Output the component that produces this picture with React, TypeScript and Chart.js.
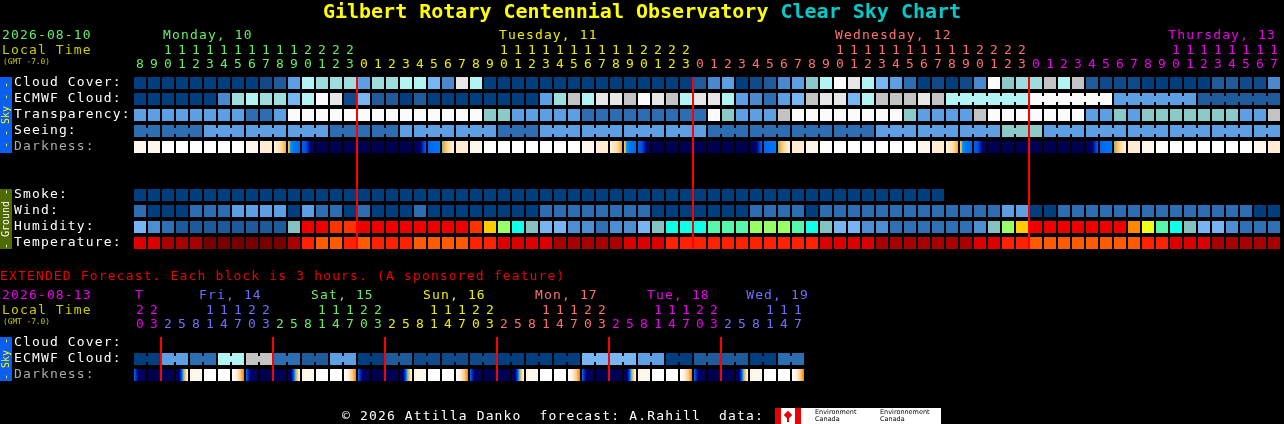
import React, { useEffect, useRef } from 'react';
import { Chart, registerables } from 'chart.js';

Chart.register(...registerables);

const FONT = "'DejaVu Sans Mono', monospace";

// ---------------- tick labels ----------------
const topHours = [
  8, 9, 10, 11, 12, 13, 14, 15, 16, 17, 18, 19, 20, 21, 22, 23,
  0, 1, 2, 3, 4, 5, 6, 7, 8, 9, 10, 11, 12, 13, 14, 15, 16, 17, 18, 19, 20, 21, 22, 23,
  0, 1, 2, 3, 4, 5, 6, 7, 8, 9, 10, 11, 12, 13, 14, 15, 16, 17, 18, 19, 20, 21, 22, 23,
  0, 1, 2, 3, 4, 5, 6, 7, 8, 9, 10, 11, 12, 13, 14, 15, 16, 17,
];
const topDayNames = ['Monday, 10', 'Tuesday, 11', 'Wednesday, 12', 'Thursday, 13'];
const topDayColors = ['#66ee66', '#eeee00', '#ff7070', '#ee00ee'];

const extHours = [
  20, 23,
  2, 5, 8, 11, 14, 17, 20, 23,
  2, 5, 8, 11, 14, 17, 20, 23,
  2, 5, 8, 11, 14, 17, 20, 23,
  2, 5, 8, 11, 14, 17, 20, 23,
  2, 5, 8, 11, 14, 17, 20, 23,
  2, 5, 8, 11, 14, 17,
];
const extDayNames = ['T', 'Fri, 14', 'Sat, 15', 'Sun, 16', 'Mon, 17', 'Tue, 18', 'Wed, 19'];
const extDayColors = ['#ee00ee', '#7070ff', '#66ee66', '#eeee00', '#ff7070', '#ee00ee', '#7070ff'];

// ---------------- series (level indices / codes) ----------------
const cloudCover = [
  0, 0, 0, 0, 0, 0, 0, 0, 0, 1, 2, 5, 9, 8, 8, 8,
  5, 8, 8, 9, 9, 6, 4, 11, 9, 0, 0, 0, 0, 0, 0, 0, 0, 0, 0, 0, 0, 0, 0, 0,
  2, 4, 5, 0, 1, 2, 4, 5, 7, 9, 12, 11, 9, 6, 5, 3, 0, 1, 0, 1, 4, 12, 7, 8,
  8, 10, 9, 10, 2, 1, 1, 1, 0, 0, 0, 0, 0, 2, 2, 1, 1, 4,
];
const ecmwfCloud = [
  0, 0, 0, 0, 0, 0, 4, 8, 9, 8, 8, 6, 9, 12, 11, 1,
  6, 2, 2, 0, 2, 0, 0, 0, 0, 0, 0, 0, 0, 5, 8, 10, 9, 11, 11, 10, 12, 11, 10, 9,
  11, 11, 9, 5, 4, 3, 5, 6, 10, 11, 11, 6, 9, 10, 10, 10, 11, 10, 9, 9, 9, 9, 9, 9,
  12, 12, 12, 12, 12, 12, 5, 5, 5, 5, 5, 5, 2, 2, 2, 2, 2, 2,
];
const ecmwfGroupSizes = [
  1, 1, 1, 1, 1, 1, 1, 1, 1, 1, 1, 1, 1, 1, 1, 1, 1, 1, 1, 1, 1, 1, 1, 1, 1, 1, 1, 1, 1,
  1, 1, 1, 1, 1, 1, 1, 1, 1, 1, 1, 1, 1, 1, 1, 1, 1, 1, 1, 1, 1, 1, 1, 1, 1, 1, 1, 1, 1,
  6, 6, 6, 6,
];
const transparency = [
  5, 5, 5, 5, 5, 5, 5, 5, 3, 3, 5, 12, 12, 12, 12, 12,
  12, 12, 12, 12, 12, 12, 12, 12, 12, 7, 7, 5, 5, 5, 5, 5, 3, 3, 3, 3, 3, 3, 3, 3,
  3, 12, 7, 5, 5, 5, 10, 12, 12, 12, 12, 12, 12, 12, 12, 7, 5, 5, 5, 5, 10, 12, 12, 12,
  12, 12, 12, 12, 5, 5, 7, 5, 7, 7, 7, 7, 7, 7, 7, 5, 5, 10,
];
const seeing = [
  3, 3, 3, 3, 3, 5, 5, 5, 5, 5, 5, 5, 5, 5, 3, 3,
  3, 3, 3, 5, 5, 5, 5, 5, 5, 5, 3, 3, 3, 5, 5, 5, 5, 5, 5, 5, 5, 5, 5, 5,
  5, 3, 3, 3, 3, 3, 3, 3, 3, 3, 3, 3, 3, 5, 5, 5, 5, 5, 5, 5, 5, 5, 7, 7,
  7, 5, 5, 5, 5, 5, 5, 5, 5, 5, 5, 5, 5, 5, 5, 5, 5, 5,
];
const seeingGroupSizes = [2, 3, 3, 3, 3, 3, 3, 3, 3, 3, 3, 3, 3, 3, 3, 3, 3, 3, 3, 3, 3, 3, 3, 3, 3, 3, 3, 2];
const darkness = [
  'c', 'c', 'W', 'W', 'W', 'W', 'W', 'W', 'c', 'C', 'S', 'T', 'D', 'N', 'N', 'N',
  'N', 'N', 'N', 'N', 'b', 'R', 'r', 'C', 'c', 'W', 'W', 'W', 'W', 'W', 'W', 'W', 'c', 'C', 'S', 'T', 'D', 'N', 'N', 'N',
  'N', 'N', 'N', 'N', 'b', 'R', 'r', 'C', 'c', 'W', 'W', 'W', 'W', 'W', 'W', 'W', 'c', 'C', 'S', 'T', 'D', 'N', 'N', 'N',
  'N', 'N', 'N', 'N', 'b', 'R', 'r', 'C', 'c', 'W', 'W', 'W', 'W', 'W', 'W', 'W', 'c', 'C',
];
const smoke = [
  0, 0, 0, 0, 0, 0, 0, 0, 0, 0, 0, 0, 0, 0, 0, 0,
  0, 0, 0, 0, 0, 0, 0, 0, 0, 0, 0, 0, 0, 0, 0, 0, 0, 0, 0, 0, 0, 0, 0, 0,
  0, 0, 0, 0, 0, 0, 0, 0, 0, 0, 0, 0, 0, 0, 0, 0, 0, 0,
];
const wind = [
  3, 0, 0, 0, 3, 3, 3, 5, 5, 5, 5, 0, 5, 3, 3, 0,
  3, 0, 0, 0, 3, 0, 0, 0, 0, 0, 0, 0, 0, 3, 3, 3, 3, 3, 3, 3, 3, 0, 0, 0,
  0, 0, 0, 0, 3, 3, 3, 3, 0, 3, 3, 3, 3, 3, 3, 3, 3, 3, 3, 3, 3, 3, 5, 5,
  0, 0, 3, 3, 3, 3, 3, 3, 3, 3, 3, 3, 3, 3, 3, 3, 0, 0,
];
const humidity = [
  'L', 'M', 'K', 'J', 'J', 'J', 'J', 'J', 'J', 'J', 'J', 'Q', 'R', 'R', 'P', 'P',
  'R', 'R', 'R', 'R', 'R', 'R', 'R', 'R', 'P', 'O', 'G', 'Y', 'Q', 'L', 'L', 'M', 'M', 'K', 'M', 'M', 'L', 'Q', 'Y', 'Y',
  'Y', 'A', 'A', 'A', 'G', 'G', 'G', 'A', 'Y', 'Q', 'L', 'L', 'M', 'M', 'K', 'K', 'K', 'K', 'K', 'K', 'M', 'Q', 'G', 'O',
  'R', 'R', 'R', 'R', 'R', 'R', 'R', 'F', 'E', 'A', 'Y', 'Q', 'L', 'L', 'M', 'K', 'K', 'K',
];
const temperature = [
  'a', 'a', 'b', 'b', 'b', 'c', 'c', 'c', 'c', 'c', 'c', 'b', 'd', 'e', 'e', 'd',
  'e', 'd', 'd', 'd', 'e', 'e', 'e', 'e', 'd', 'd', 'a', 'a', 'a', 'a', 'b', 'b', 'b', 'b', 'b', 'a', 'a', 'a', 'd', 'd',
  'd', 'd', 'd', 'd', 'd', 'd', 'd', 'd', 'd', 'a', 'a', 'a', 'a', 'b', 'b', 'b', 'b', 'b', 'b', 'b', 'a', 'a', 'd', 'd',
  'e', 'e', 'e', 'e', 'e', 'e', 'e', 'e', 'd', 'd', 'a', 'a', 'a', 'b', 'b', 'b', 'b', 'b',
];

const extEcmwf = [
  0, 0, 5, 5, 3, 3, 9, 9, 10, 10, 3, 3, 2, 2, 5, 5, 0, 0, 2, 2, 1, 1, 1, 1,
  1, 1, 0, 0, 0, 0, 0, 0, 6, 6, 6, 6, 5, 5, 0, 0, 2, 2, 2, 2, 0, 0, 3, 3,
];
const extEcmwfGroupSizes = [2, 2, 2, 2, 2, 2, 2, 2, 2, 2, 2, 2, 2, 2, 2, 2, 2, 2, 2, 2, 2, 2, 2, 2];
const extDarkness = [
  'z', 'N',
  'N', 'x', 'c', 'W', 'W', 'y', 'z', 'N',
  'N', 'x', 'c', 'W', 'W', 'y', 'z', 'N',
  'N', 'x', 'c', 'W', 'W', 'y', 'z', 'N',
  'N', 'x', 'c', 'W', 'W', 'y', 'z', 'N',
  'N', 'x', 'c', 'W', 'W', 'y', 'z', 'N',
  'N', 'x', 'c', 'W', 'W', 'y',
];

// ---------------- palettes ----------------
const skyPalette = [
  '#003f7f', '#0f4a8a', '#1f5b9b', '#2d6db1', '#4a89ce', '#5c9fe3', '#77b6f3',
  '#8ccaca', '#9ddddd', '#b2f3f3', '#c3c3c3', '#e6e6e6', '#fbfbfb',
];
const humidityPalette: Record<string, string> = {
  J: '#1d5a9a', K: '#2f70b4', M: '#4d8dd2', L: '#78b4f2', Q: '#84c2c2',
  Y: '#10ffe8', A: '#55f8aa', G: '#99ff66', O: '#ffcc00', E: '#eeff1a',
  F: '#ff8800', P: '#ff3300', R: '#ee0000',
};
const tempPalette: Record<string, string> = {
  a: '#dd0000', b: '#a80000', c: '#780000', d: '#ff2200', e: '#ff5a00',
};
const darkStops: Record<string, [number, string][]> = {
  W: [[0, '#ffffff']],
  c: [[0, '#fff6ec']],
  C: [[0, '#ffecd2']],
  N: [[0, '#000052']],
  S: [[0, '#fff0dc'], [0.5, '#ffe0b4'], [0.85, '#ffc060'], [1, '#ffa020']],
  T: [[0, '#ffb020'], [0.08, '#ffd040'], [0.14, '#20e0e0'], [0.22, '#0090ff'], [0.5, '#0078f0'], [1, '#0068e8']],
  D: [[0, '#0060e8'], [0.35, '#0050e0'], [0.5, '#0020b0'], [0.7, '#000080'], [1, '#000058']],
  b: [[0, '#000052'], [0.45, '#000060'], [0.65, '#0010a0'], [0.8, '#0040d0'], [1, '#0060f0']],
  R: [[0, '#0066ee'], [1, '#0078f8']],
  r: [[0, '#20d0e0'], [0.1, '#ffa030'], [0.35, '#ffc878'], [0.7, '#ffe6c0'], [1, '#fff0dc']],
  x: [[0, '#000052'], [0.3, '#000070'], [0.4, '#0030d0'], [0.55, '#0090ff'], [0.65, '#30e0f0'], [0.72, '#ffb040'], [0.85, '#ffe0b0'], [1, '#fff4e8']],
  y: [[0, '#ffffff'], [0.4, '#fff0dc'], [0.75, '#ffc070'], [0.88, '#ff9a20'], [0.94, '#30e0c0'], [1, '#00a0ff']],
  z: [[0, '#0070ff'], [0.15, '#0030c0'], [0.35, '#000070'], [1, '#000052']],
};

// ---------------- dataset builders ----------------
const CELL = 0.375;
const LINK = 0.1875;

function cellSet(vals: any[], colorOf: (v: any) => any, row: number) {
  return {
    data: vals.map((_v, i) => ({ x: i, y: [row - CELL, row + CELL] })),
    backgroundColor: vals.map(colorOf),
    barThickness: 12,
    grouped: false,
    inflateAmount: 0,
    borderWidth: 0,
    order: 2,
  };
}

function linkSet(vals: number[], sizes: number[], palette: string[], row: number) {
  const data: any[] = [];
  const colors: string[] = [];
  let start = 0;
  sizes.forEach((s) => {
    for (let k = 0; k < s - 1; k++) {
      const a = start + k;
      if (vals[a] === vals[a + 1]) {
        data.push({ x: a + 0.5, y: [row - LINK, row + LINK] });
        colors.push(palette[vals[a]]);
      }
    }
    start += s;
  });
  return {
    data,
    backgroundColor: colors,
    barThickness: 2,
    grouped: false,
    inflateAmount: 0,
    borderWidth: 0,
    order: 1,
  };
}

function midnightSet(hours: number[], y0: number, y1: number) {
  const data: any[] = [];
  hours.forEach((h, i) => {
    if (i > 0 && h < hours[i - 1]) data.push({ x: i - 0.5, y: [y0, y1] });
  });
  return {
    data,
    backgroundColor: '#ff0000',
    barThickness: 2,
    grouped: false,
    inflateAmount: 0,
    borderWidth: 0,
    order: 0,
  };
}

// replace flat placeholder colours of darkness cells with per-cell gradients
function applyDarkGradients(chart: any, dsIndex: number, codes: string[]) {
  const xs = chart.scales.x;
  const ctx = chart.ctx;
  chart.data.datasets[dsIndex].backgroundColor = codes.map((code, i) => {
    const stops = darkStops[code];
    if (stops.length === 1) return stops[0][1];
    const cx = xs.getPixelForValue(i);
    if (!isFinite(cx)) return stops[0][1];
    const g = ctx.createLinearGradient(cx - 6, 0, cx + 6, 0);
    stops.forEach(([o, col]) => g.addColorStop(o, col));
    return g;
  });
  chart.update('none');
}

// ---------------- header text plugins ----------------
const topHeader = {
  id: 'topHeader',
  afterDraw(chart: any) {
    const ctx = chart.ctx;
    const xs = chart.scales.x;
    ctx.save();
    ctx.textBaseline = 'middle';
    let day = 0;
    topHours.forEach((h, i) => {
      if (i > 0 && h < topHours[i - 1]) day++;
      const x = xs.getPixelForValue(i);
      ctx.fillStyle = topDayColors[day];
      ctx.font = `13px ${FONT}`;
      ctx.letterSpacing = '0px';
      ctx.textAlign = 'center';
      if (h >= 10) ctx.fillText(String(Math.floor(h / 10)), x, 50.3);
      ctx.fillText(String(h % 10), x, 64.8);
      if (h === 10) {
        ctx.letterSpacing = '1.15px';
        ctx.textAlign = 'left';
        const name = topDayNames[day];
        const w = ctx.measureText(name).width;
        const lx = Math.min(x - 5, chart.width - 8 - w);
        ctx.fillText(name, lx, 35.3);
      }
    });
    ctx.restore();
  },
};

const extHeader = {
  id: 'extHeader',
  afterDraw(chart: any) {
    const ctx = chart.ctx;
    const xs = chart.scales.x;
    const rightLimit = xs.getPixelForValue(extHours.length - 1) + 11;
    ctx.save();
    ctx.textBaseline = 'middle';
    let day = 0;
    extHours.forEach((h, i) => {
      if (i > 0 && h < extHours[i - 1]) day++;
      const x = xs.getPixelForValue(i);
      ctx.fillStyle = extDayColors[day];
      ctx.font = `13px ${FONT}`;
      ctx.letterSpacing = '0px';
      ctx.textAlign = 'center';
      if (h >= 10) ctx.fillText(String(Math.floor(h / 10)), x, 310.3);
      ctx.fillText(String(h % 10), x, 324.8);
      const first = i === 0;
      if (first || h === 11) {
        ctx.letterSpacing = '1.15px';
        ctx.textAlign = 'left';
        const name = extDayNames[day];
        const w = ctx.measureText(name).width;
        const lx = first ? x - 5 : Math.min(x - 11, rightLimit - w);
        ctx.fillText(name, lx, 295.3);
      }
    });
    ctx.restore();
  },
};

function baseOptions(yMax: number, padTop: number, padBottom: number) {
  return {
    responsive: false,
    animation: false,
    devicePixelRatio: 1,
    events: [],
    layout: { padding: { left: 133, right: 3, top: padTop, bottom: padBottom } },
    plugins: { legend: { display: false }, tooltip: { enabled: false }, title: { display: false } },
    scales: {
      x: { type: 'linear', min: -0.5, max: 81.5, display: false, offset: false },
      y: { type: 'linear', min: -0.5, max: yMax, reverse: true, display: false },
    },
  };
}

// ---------------- HTML labels ----------------
function Txt({ x, y, color, size = 13, ls = 1.15, bold = false, children }: any) {
  const L = 20;
  return (
    <div
      style={{
        position: 'absolute', left: x, top: y - L / 2, height: L, lineHeight: L + 'px',
        fontFamily: FONT, fontSize: size, letterSpacing: ls, color, whiteSpace: 'pre',
        fontWeight: bold ? 'bold' : 'normal',
      }}
    >
      {children}
    </div>
  );
}

function SideBar({ top, height, bg, color, text }: any) {
  return (
    <div style={{ position: 'absolute', left: 0, top, width: 12, height, background: bg }}>
      <div
        style={{
          position: 'absolute', left: 6, top: height / 2, transform: 'translate(-50%, -50%) rotate(-90deg)',
          fontFamily: FONT, fontSize: 10, lineHeight: '12px', color, whiteSpace: 'pre',
        }}
      >
        {text}
      </div>
    </div>
  );
}

export default function App() {
  const topRef = useRef<HTMLCanvasElement>(null);
  const extRef = useRef<HTMLCanvasElement>(null);

  useEffect(() => {
    document.body.style.margin = '0';
    document.body.style.background = '#000';
    const sky = (v: number) => skyPalette[v];
    const flatDark = (v: string) => darkStops[v][0][1];
    const top = new Chart(topRef.current as any, {
      type: 'bar',
      data: {
        datasets: [
          midnightSet(topHours, -CELL, 10 + CELL),
          cellSet(cloudCover, sky, 0),
          cellSet(ecmwfCloud, sky, 1),
          linkSet(ecmwfCloud, ecmwfGroupSizes, skyPalette, 1),
          cellSet(transparency, sky, 2),
          cellSet(seeing, sky, 3),
          linkSet(seeing, seeingGroupSizes, skyPalette, 3),
          cellSet(darkness, flatDark, 4),
          cellSet(smoke, sky, 7),
          cellSet(wind, sky, 8),
          cellSet(humidity, (v: string) => humidityPalette[v], 9),
          cellSet(temperature, (v: string) => tempPalette[v], 10),
        ] as any,
      },
      options: baseOptions(10.5, 75, 173) as any,
      plugins: [topHeader as any],
    });
    applyDarkGradients(top, 7, darkness);

    const ext = new Chart(extRef.current as any, {
      type: 'bar',
      data: {
        datasets: [
          midnightSet(extHours, -CELL, 2 + CELL),
          cellSet(extEcmwf, sky, 1),
          linkSet(extEcmwf, extEcmwfGroupSizes, skyPalette, 1),
          cellSet(extDarkness, flatDark, 2),
        ] as any,
      },
      options: baseOptions(2.5, 335, 41) as any,
      plugins: [extHeader as any],
    });
    applyDarkGradients(ext, 3, extDarkness);

    return () => {
      top.destroy();
      ext.destroy();
    };
  }, []);

  const grey = '#aaaaaa';
  const white = '#ffffff';
  const olive = '#cccc00';

  return (
    <div style={{ position: 'relative', width: 1284, height: 424, background: '#000', overflow: 'hidden' }}>
      <canvas ref={topRef} width={1284} height={424} style={{ position: 'absolute', left: 0, top: 0, width: 1284, height: 424 }} />
      <canvas ref={extRef} width={1284} height={424} style={{ position: 'absolute', left: 0, top: 0, width: 1284, height: 424 }} />

      <div
        style={{
          position: 'absolute', left: 0, top: 11 - 12, width: 1284, height: 24, lineHeight: '24px',
          textAlign: 'center', fontFamily: FONT, fontSize: 20, fontWeight: 'bold', whiteSpace: 'pre',
        }}
      >
        <span style={{ color: '#ffff00' }}>Gilbert Rotary Centennial Observatory</span>
        <span style={{ color: '#00cccc' }}> Clear Sky Chart</span>
      </div>

      <Txt x={2} y={35.3} color="#66ee66">2026-08-10</Txt>
      <Txt x={2} y={50.3} color={olive}>Local Time</Txt>
      <Txt x={3} y={61.7} color={olive} size={7.8} ls={0}>(GMT -7.0)</Txt>

      <SideBar top={77} height={76} bg="#0a5ef0" color="#ffff00" text="- - Sky - -" />
      <Txt x={14} y={81.5} color={white}>Cloud Cover:</Txt>
      <Txt x={14} y={97.5} color={white}>ECMWF Cloud:</Txt>
      <Txt x={14} y={113.5} color={white}>Transparency:</Txt>
      <Txt x={14} y={129.5} color={white}>Seeing:</Txt>
      <Txt x={14} y={145.5} color={grey}>Darkness:</Txt>

      <SideBar top={189} height={60} bg="#4f6a00" color={white} text="- Ground -" />
      <Txt x={14} y={193.5} color={white}>Smoke:</Txt>
      <Txt x={14} y={209.5} color={white}>Wind:</Txt>
      <Txt x={14} y={225.5} color={white}>Humidity:</Txt>
      <Txt x={14} y={241.5} color={white}>Temperature:</Txt>

      <Txt x={0} y={276.3} color="#ee0000">EXTENDED Forecast. Each block is 3 hours. (A sponsored feature)</Txt>
      <Txt x={2} y={295.3} color="#ee00ee">2026-08-13</Txt>
      <Txt x={2} y={310.3} color={olive}>Local Time</Txt>
      <Txt x={3} y={321.7} color={olive} size={7.8} ls={0}>(GMT -7.0)</Txt>

      <SideBar top={337} height={44} bg="#0a5ef0" color="#ffff00" text="- Sky -" />
      <Txt x={14} y={341.5} color={white}>Cloud Cover:</Txt>
      <Txt x={14} y={357.5} color={white}>ECMWF Cloud:</Txt>
      <Txt x={14} y={373.5} color={grey}>Darkness:</Txt>

      <Txt x={342} y={416} color={white}>© 2026 Attilla Danko  forecast: A.Rahill  data:</Txt>
      <div style={{ position: 'absolute', left: 775, top: 408, width: 166, height: 16, background: '#ffffff' }}>
        <div style={{ position: 'absolute', left: 0, top: 0, width: 6, height: 16, background: '#ee0000' }} />
        <div style={{ position: 'absolute', left: 20, top: 0, width: 6, height: 16, background: '#ee0000' }} />
        <div style={{ position: 'absolute', left: 10, top: 4, width: 6, height: 6, background: '#ee0000', transform: 'rotate(45deg)' }} />
        <div style={{ position: 'absolute', left: 12, top: 10, width: 2, height: 4, background: '#ee0000' }} />
        <div style={{ position: 'absolute', left: 40, top: 1, fontFamily: "'DejaVu Sans', sans-serif", fontSize: 6.5, lineHeight: '7px', color: '#000' }}>
          Environment<br />Canada
        </div>
        <div style={{ position: 'absolute', left: 105, top: 1, fontFamily: "'DejaVu Sans', sans-serif", fontSize: 6.5, lineHeight: '7px', color: '#000' }}>
          Environnement<br />Canada
        </div>
      </div>
    </div>
  );
}
